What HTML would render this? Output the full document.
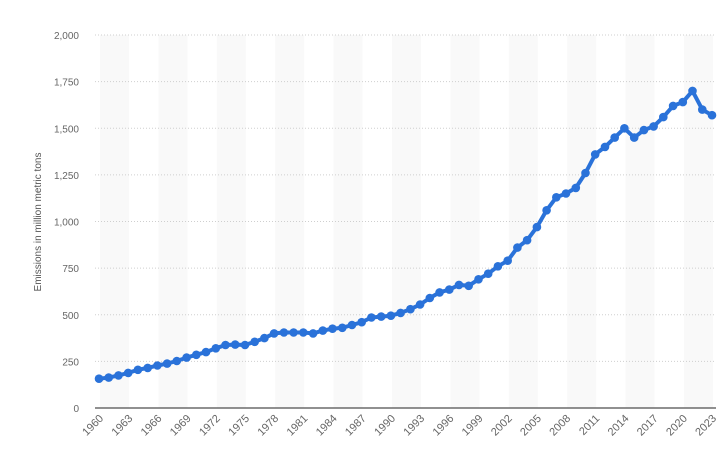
<!DOCTYPE html>
<html><head><meta charset="utf-8"><style>
html,body{margin:0;padding:0;background:#fff;width:728px;height:467px;overflow:hidden}
svg{display:block;font-family:"Liberation Sans",sans-serif}
</style></head><body>
<svg id="c" width="728" height="467" xmlns="http://www.w3.org/2000/svg"></svg>
<script>
const d=[157,163,175,188,205,215,228,238,252,270,285,300,320,338,340,338,355,375,400,405,405,405,400,415,425,430,445,460,485,490,495,510,530,555,590,620,635,660,655,690,720,760,790,860,900,970,1060,1130,1150,1180,1260,1360,1400,1450,1500,1450,1490,1510,1560,1620,1640,1700,1600,1570];
const x0=99,st=(712-99)/63,y=v=>408-v*0.1865;
let s='';
for(let k=0;k<11;k++){const bx=100+k*58.4;s+=`<rect x="${bx}" y="35" width="29" height="373" fill="#f9f9f9"/>`;}
for(let v=250;v<=2000;v+=250){s+=`<line x1="95" x2="716" y1="${y(v)}" y2="${y(v)}" stroke="#cfcfcf" stroke-dasharray="1,2"/>`;}
for(let v=0;v<=2000;v+=250){s+=`<text x="79" y="${y(v)+4}" text-anchor="end" font-size="10" fill="#666">${v.toLocaleString('en-US')}</text>`;}
s+=`<line x1="95" x2="716" y1="408" y2="408" stroke="#222" stroke-width="1"/>`;
s+=`<text transform="translate(41,222) rotate(-90)" text-anchor="middle" font-size="10" fill="#555">Emissions in million metric tons</text>`;
for(let i=0;i<64;i+=3){const xx=x0+i*st;s+=`<text transform="translate(${xx+5},${419}) rotate(-45)" text-anchor="end" font-size="11" fill="#666">${1960+i}</text>`;}
s+=`<polyline fill="none" stroke="#2a72d9" stroke-width="4" stroke-linejoin="round" points="${d.map((v,i)=>(x0+i*st).toFixed(1)+','+y(v).toFixed(1)).join(' ')}"/>`;
d.forEach((v,i)=>{s+=`<circle cx="${(x0+i*st).toFixed(1)}" cy="${y(v).toFixed(1)}" r="4.3" fill="#2a72d9"/>`;});
document.getElementById('c').innerHTML=s;
</script>
</body></html>
